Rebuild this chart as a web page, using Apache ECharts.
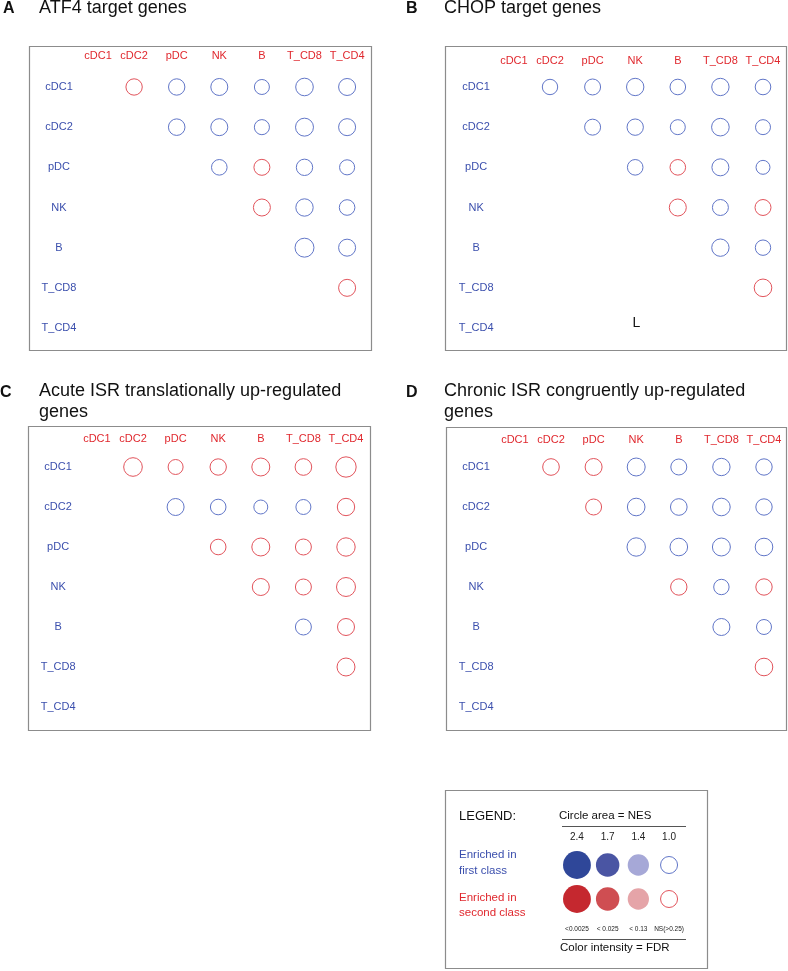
<!DOCTYPE html>
<html>
<head>
<meta charset="utf-8">
<script src="https://cdn.jsdelivr.net/npm/echarts/dist/echarts.min.js"></script>
<style>html,body{margin:0;padding:0;background:#fff}#c{width:788px;height:971px}</style>
</head>
<body>
<div id="c"></div>
<script>
// ---------- DATA ----------
const cells = ['cDC1', 'cDC2', 'pDC', 'NK', 'B', 'T_CD8', 'T_CD4'];
// [column cell, row cell, NES]; positive = enriched in first class (blue), negative = second class (red). All NS.
const atf4 = [
  ['cDC2','cDC1',-0.93],['pDC','cDC1',0.93],['NK','cDC1',1.0],['B','cDC1',0.79],['T_CD8','cDC1',1.07],['T_CD4','cDC1',1.0],
  ['pDC','cDC2',0.95],['NK','cDC2',1.0],['B','cDC2',0.80],['T_CD8','cDC2',1.11],['T_CD4','cDC2',1.0],
  ['NK','pDC',0.85],['B','pDC',-0.89],['T_CD8','pDC',0.93],['T_CD4','pDC',0.80],
  ['B','NK',-1.0],['T_CD8','NK',1.04],['T_CD4','NK',0.85],
  ['T_CD8','B',1.23],['T_CD4','B',1.0],
  ['T_CD4','T_CD8',-1.0]
];
const chop = [
  ['cDC2','cDC1',0.83],['pDC','cDC1',0.89],['NK','cDC1',1.04],['B','cDC1',0.85],['T_CD8','cDC1',1.04],['T_CD4','cDC1',0.85],
  ['pDC','cDC2',0.89],['NK','cDC2',0.93],['B','cDC2',0.79],['T_CD8','cDC2',1.07],['T_CD4','cDC2',0.79],
  ['NK','pDC',0.85],['B','pDC',-0.85],['T_CD8','pDC',1.0],['T_CD4','pDC',0.69],
  ['B','NK',-1.0],['T_CD8','NK',0.89],['T_CD4','NK',-0.89],
  ['T_CD8','B',1.04],['T_CD4','B',0.83],
  ['T_CD4','T_CD8',-1.07]
];
const acute = [
  ['cDC2','cDC1',-1.19],['pDC','cDC1',-0.79],['NK','cDC1',-0.93],['B','cDC1',-1.11],['T_CD8','cDC1',-0.96],['T_CD4','cDC1',-1.41],
  ['pDC','cDC2',1.0],['NK','cDC2',0.85],['B','cDC2',0.69],['T_CD8','cDC2',0.79],['T_CD4','cDC2',-1.04],
  ['NK','pDC',-0.85],['B','pDC',-1.11],['T_CD8','pDC',-0.89],['T_CD4','pDC',-1.16],
  ['B','NK',-1.0],['T_CD8','NK',-0.89],['T_CD4','NK',-1.23],
  ['T_CD8','B',0.89],['T_CD4','B',-1.0],
  ['T_CD4','T_CD8',-1.11]
];
const chronic = [
  ['cDC2','cDC1',-0.96],['pDC','cDC1',-1.0],['NK','cDC1',1.11],['B','cDC1',0.89],['T_CD8','cDC1',1.04],['T_CD4','cDC1',0.93],
  ['pDC','cDC2',-0.89],['NK','cDC2',1.07],['B','cDC2',0.96],['T_CD8','cDC2',1.07],['T_CD4','cDC2',0.93],
  ['NK','pDC',1.16],['B','pDC',1.07],['T_CD8','pDC',1.11],['T_CD4','pDC',1.07],
  ['B','NK',-0.93],['T_CD8','NK',0.83],['T_CD4','NK',-0.93],
  ['T_CD8','B',1.0],['T_CD4','B',0.79],
  ['T_CD4','T_CD8',-1.07]
];
const legendNES = [2.4, 1.7, 1.4, 1.0];
const legendFDR = ['<0.0025', '< 0.025', '< 0.13', 'NS(>0.25)'];
const legendClasses = ['first', 'second'];

// ---------- STYLE ----------
const FONT = '"Liberation Sans", Arial, sans-serif';
const LBL_RED = '#e0282e', LBL_BLUE = '#3b4fad';
const RING_RED = '#e2545c', RING_BLUE = '#6176c8';
const FILL = {
  first: ['#2f4799', '#4a55a3', '#a6a8d7', null],
  second: ['#c5282f', '#cf4e52', '#e5a4a8', null]
};
const sizeOf = (nes, open) => 18 * Math.sqrt(Math.abs(nes)) - (open ? 1 : 0);

const panels = [
  {data: atf4,    grid: {left: 70.2,  top: 66.9, width: 298.2, height: 281.2}, xm: 5.5, ym: 11.2},
  {data: chop,    grid: {left: 486.1, top: 66.9, width: 298.2, height: 281.2}, xm: 0.5, ym: 10},
  {data: acute,   grid: {left: 69.1,  top: 447,  width: 298.2, height: 280},   xm: 2.5, ym: 11},
  {data: chronic, grid: {left: 487.1, top: 447,  width: 298.2, height: 280},   xm: 1.5, ym: 11}
];

const grids = [], xAxes = [], yAxes = [], series = [];
panels.forEach((p, i) => {
  grids.push(Object.assign({show: false}, p.grid));
  xAxes.push({
    gridIndex: i, type: 'category', data: cells, position: 'top',
    axisLine: {show: false}, axisTick: {show: false}, splitLine: {show: false},
    axisLabel: {
      interval: 0, color: LBL_RED, fontSize: 11, fontFamily: FONT, margin: p.xm,
      formatter: v => v === 'cDC1' ? '{s|' + v + '}' : v,
      rich: {s: {color: LBL_RED, fontSize: 11, fontFamily: FONT, padding: [0, 0, 0, 13]}}
    }
  });
  yAxes.push({
    gridIndex: i, type: 'category', data: cells, inverse: true,
    axisLine: {show: false}, axisTick: {show: false}, splitLine: {show: false},
    axisLabel: {interval: 0, color: LBL_BLUE, fontSize: 11, fontFamily: FONT, align: 'center', margin: p.ym}
  });
  series.push({
    type: 'scatter', xAxisIndex: i, yAxisIndex: i, silent: true,
    data: p.data.map(d => ({
      value: d,
      symbolSize: sizeOf(d[2], true),
      itemStyle: {color: 'rgba(0,0,0,0)', borderColor: d[2] > 0 ? RING_BLUE : RING_RED, borderWidth: 1, opacity: 1}
    }))
  });
});

// legend grid (index 4)
grids.push({left: 561.6, top: 848, width: 122.8, height: 68, show: false});
xAxes.push({
  gridIndex: 4, type: 'category', data: legendNES.map(v => v.toFixed(1)), position: 'top',
  axisLine: {show: false}, axisTick: {show: false},
  axisLabel: {interval: 0, color: '#222', fontSize: 10, fontFamily: FONT, margin: 6}
});
xAxes.push({
  gridIndex: 4, type: 'category', data: legendFDR, position: 'bottom',
  axisLine: {show: false}, axisTick: {show: false},
  axisLabel: {interval: 0, color: '#222', fontSize: 6.5, fontFamily: FONT, margin: 10}
});
yAxes.push({
  gridIndex: 4, type: 'category', data: legendClasses, inverse: true,
  axisLine: {show: false}, axisTick: {show: false}, axisLabel: {show: false}
});
const legendData = [];
legendClasses.forEach((cls, r) => {
  legendNES.forEach((nes, k) => {
    const fill = FILL[cls][k];
    const open = !fill;
    legendData.push({
      value: [k, r, nes],
      symbolSize: sizeOf(nes, open),
      itemStyle: open
        ? {color: 'rgba(0,0,0,0)', borderColor: cls === 'first' ? RING_BLUE : RING_RED, borderWidth: 1, opacity: 1}
        : {color: fill, borderWidth: 0, opacity: 1}
    });
  });
});
series.push({type: 'scatter', xAxisIndex: 4, yAxisIndex: 4, silent: true, itemStyle: {opacity: 1}, data: legendData});

// ---------- DECORATION ----------
const boxStyle = {fill: 'none', stroke: '#8c8c8c', lineWidth: 1.2};
const txt = (x, y, text, o) => ({type: 'text', x, y, silent: true,
  style: Object.assign({text, fill: '#111', font: '18px ' + FONT, textAlign: 'left', textVerticalAlign: 'middle'}, o || {})});
const graphic = [
  {type: 'rect', shape: {x: 29.5, y: 46.5, width: 342, height: 304}, style: boxStyle, silent: true},
  {type: 'rect', shape: {x: 445.5, y: 46.5, width: 341, height: 304}, style: boxStyle, silent: true},
  {type: 'rect', shape: {x: 28.5, y: 426.5, width: 342, height: 304}, style: boxStyle, silent: true},
  {type: 'rect', shape: {x: 446.5, y: 427.5, width: 340, height: 303}, style: boxStyle, silent: true},
  {type: 'rect', shape: {x: 445.5, y: 790.5, width: 262, height: 178}, style: boxStyle, silent: true},
  txt(3, 9, 'A', {font: 'bold 16px ' + FONT}),
  txt(39, 8, 'ATF4 target genes'),
  txt(406, 9, 'B', {font: 'bold 16px ' + FONT}),
  txt(444, 8, 'CHOP target genes'),
  txt(0, 393, 'C', {font: 'bold 16px ' + FONT}),
  txt(39, 391, 'Acute ISR translationally up-regulated'),
  txt(39, 412, 'genes'),
  txt(406, 393, 'D', {font: 'bold 16px ' + FONT}),
  txt(444, 391, 'Chronic ISR congruently up-regulated'),
  txt(444, 412, 'genes'),
  txt(636.5, 323, 'L', {font: '14px ' + FONT, textAlign: 'center'}),
  txt(459, 816, 'LEGEND:', {font: '13px ' + FONT}),
  txt(559, 816, 'Circle area = NES', {font: '11.5px ' + FONT}),
  {type: 'line', shape: {x1: 562, y1: 826.5, x2: 686, y2: 826.5}, style: {stroke: '#555', lineWidth: 1}, silent: true},
  txt(459, 855, 'Enriched in', {font: '11.5px ' + FONT, fill: LBL_BLUE}),
  txt(459, 871, 'first class', {font: '11.5px ' + FONT, fill: LBL_BLUE}),
  txt(459, 898, 'Enriched in', {font: '11.5px ' + FONT, fill: LBL_RED}),
  txt(459, 913, 'second class', {font: '11.5px ' + FONT, fill: LBL_RED}),
  {type: 'line', shape: {x1: 562, y1: 939.5, x2: 686, y2: 939.5}, style: {stroke: '#555', lineWidth: 1}, silent: true},
  txt(560, 948, 'Color intensity = FDR', {font: '11.5px ' + FONT})
];

const chart = echarts.init(document.getElementById('c'), null, {renderer: 'canvas'});
chart.setOption({
  animation: false,
  backgroundColor: '#fff',
  grid: grids, xAxis: xAxes, yAxis: yAxes, series, graphic
});
</script>
</body>
</html>
